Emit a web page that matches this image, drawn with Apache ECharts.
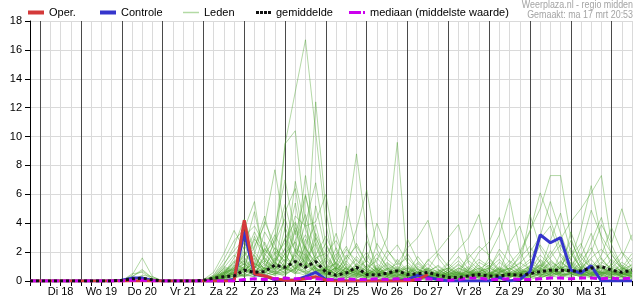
<!DOCTYPE html>
<html><head><meta charset="utf-8">
<script src="https://cdn.jsdelivr.net/npm/echarts@6/dist/echarts.min.js"></script>
<style>html,body{margin:0;padding:0;background:#fff}#c{width:635px;height:300px}</style>
</head><body><div id="c"></div>
<script>
// time axis: hours since ma 17 mrt 00:00, one value every 6 hours starting at 18:00
const startHour = 18;
const stepHours = 6;
const endHour = 372;
const dayLabels = ['Di 18','Wo 19','Do 20','Vr 21','Za 22','Zo 23','Ma 24','Di 25','Wo 26','Do 27','Vr 28','Za 29','Zo 30','Ma 31'];
const dayBoundaries = [24,48,72,96,120,144,168,192,216,240,264,288,312,336,360];

const oper = [0,0,0,0,0,0,0,0,0,0,0,0,0,0,0,0,0,0,0,0,0, 4.2,0.5,0.35,0.15,0.05,0.05,0.15,0.3,0.05, 0,0,0,0,0,0,0,0, 0.1,0.45];
const controle = [0,0,0,0,0,0,0,0,0, 0.05,0.2,0.2,0.05, 0,0,0,0,0,0,0, 0.1,3.4,0.45,0.35,0.1,0.05,0.05,0.3,0.6,0.1,0.05, 0,0,0,0,0,0, 0.1,0.4,0.25,0.1, 0,0,0,0,0, 0.25,0,0.1,0.65,3.2,2.65,3.0,0.75,0.55,1.05,0, 0,0,0];
const gemiddelde = [0,0,0,0,0,0,0,0,0, 0.05,0.15,0.2,0.08, 0,0,0,0, 0.05,0.2,0.3,0.35, 0.75,0.6,0.65,1.1, 0.95,1.35,0.95,1.35, 0.6,0.4,0.55,0.95, 0.45,0.4,0.55,0.7, 0.45,0.5,0.6,0.4, 0.25,0.25,0.35,0.45, 0.35,0.35,0.45,0.4, 0.5,0.65,0.75,0.75, 0.7,0.7,0.9,1.0, 0.75,0.6,0.75];
const mediaan = [0,0,0,0,0,0,0,0,0,0, 0.05,0.05, 0,0,0,0,0,0,0,0,0, 0.1,0.15,0.1,0.15, 0.2,0.15,0.2,0.15, 0.1,0.1,0.15,0.1, 0.1,0.15,0.1,0.15, 0.1,0.1,0.15,0.1, 0.05,0.1,0.2,0.2, 0.1,0.1,0.15,0.1, 0.1,0.15,0.2,0.2, 0.15,0.2,0.2,0.15, 0.2,0.15,0.2];

const lid01 = [0,0,0,0,0,0,0,0,0, 0,0.4,1.6,0.3, 0,0,0,0, 0,0.1,0.3,0.5, 0.8,0.4,0.6,1.5, 9.5,13.1,16.7,10.3, 3.9,0.6,0.3,0.8, 0.4,0.2,0.5,0.3, 0.1,0.3,0.2,0, 0,0.1,0.4,0.2, 0.1,0,0.3,0.5, 0.8,0.4,0.2,0.6, 1.2,0.5,0.3,0.2, 0.4,0.8,0.3];
const lid02 = [0,0,0,0,0,0,0,0,0, 0,0.3,0.8,0.2, 0,0,0,0, 0,0.2,0.6,1.1, 0.9,1.8,0.7,3.0, 9.5,10.4,4.0,1.2, 0.4,0.2,1.0,0.6, 0.2,0.1,0.3,0.8, 0.5,0.2,0,0.1, 0.3,0.6,0.2,0, 0,0.2,0.4,0.1, 0.3,1.5,0.9,0.4, 0.2,0.6,1.0,0.5, 0.2,0.1,0.4];
const lid03 = [0,0,0,0,0,0,0,0,0, 0,0.5,0.6,0.1, 0,0,0,0, 0,0,0.2,0.4, 1.2,0.6,0.3,0.9, 1.5,4.0,0.8,12.4, 4.9,0.8,0.3,0.2, 0.6,1.1,0.4,0.2, 0.1,0,0.3,0.5, 0.2,0.1,0,0.3, 0.6,0.2,0.1,0, 0.4,0.7,2.1,1.0, 0.5,0.3,0.8,1.6, 0.7,0.3,0.2];
const lid04 = [0,0,0,0,0,0,0,0,0, 0,0,0.4,0.3, 0,0,0,0, 0,0.3,1.0,0.7, 2.1,0.9,1.4,0.6, 0.3,2.2,1.8,0.9, 0.4,1.6,3.8,8.8, 3.3,0.5,0.2,0.1, 0.3,0.1,0.4,0.2, 0,0.2,0.5,1.1, 0.3,0.1,0.2,0.6, 0.2,0.5,0.3,0.9, 2.3,0.8,0.4,0.3, 0.1,0.5,0.9];
const lid05 = [0,0,0,0,0,0,0,0,0, 0,0.2,0.3,0, 0,0,0,0, 0,0,0.1,0.2, 0.5,0.3,0.8,1.3, 0.7,1.9,3.2,1.5, 0.6,0.3,0.2,0.5, 0.9,1.4,3.0,9.6, 1.0,0.4,0.2,0.3, 0.1,0,0.2,0.4, 0.8,0.3,0.5,0.2, 0.1,0.3,0.6,0.4, 0.7,1.2,0.5,0.2, 0.3,0.6,0.2];
const lid06 = [0,0,0,0,0,0,0,0,0, 0.1,0.3,0.7,0.2, 0,0,0,0, 0.1,0.4,1.5,2.8, 3.6,5.5,1.2,0.6, 0.9,0.5,1.7,0.8, 0.3,0.1,0.4,0.7, 0.5,0.3,0.1,0.2, 0.4,0.7,0.3,0.1, 0.2,0.5,0.9,0.4, 0.3,0.6,1.2,2.0, 3.5,5.0,7.3,7.3, 3.0,1.1,0.6,0.4, 0.2,0.3,0.1];
const lid07 = [0,0,0,0,0,0,0,0,0,0,0,0,0,0,0,0,0, 0,0.2,0.5,1.0, 1.8,2.4,3.9,7.7, 3.4,1.2,0.6,0.9, 0.5,0.2,0.6,0.4, 0.2,0.5,0.8,0.3, 0.2,0.1,0.5,0.8, 0.4,0.2,0.1,0.3, 0.5,0.9,0.4,0.2, 0.6,1.0,1.8,2.9, 4.1,5.0,6.1,7.3, 2.5,1.0,0.6];
const lid08 = [0,0,0,0,0,0,0,0,0,0,0,0,0,0,0,0,0, 0,0.1,0.4,0.9, 1.4,0.8,2.7,1.1, 4.8,6.4,2.0,0.7, 0.8,2.3,0.9,0.3, 0.2,0.6,1.3,0.7, 0.3,1.2,0.6,0.2, 0.4,0.8,1.6,2.4, 1.8,3.2,5.7,2.1, 0.6,0.3,0.9,1.3, 0.8,0.4,1.1,0.6, 0.3,0.2,0.5];
const lid09 = [0,0,0,0,0,0,0,0,0,0,0,0,0,0,0,0,0, 0,0,0.3,0.6, 0.4,1.2,0.9,2.3, 1.6,0.8,5.9,3.1, 1.2,0.6,0.3,1.1, 2.0,0.8,0.4,0.6, 0.9,0.5,0.3,0.6, 1.3,2.2,3.0,4.6, 1.5,0.7,0.4,0.9, 0.5,0.8,0.4,0.2, 0.6,1.4,2.3,0.9, 0.5,1.3,0.8];
const lid10 = [0,0,0,0,0,0,0,0,0,0,0,0,0,0,0,0,0, 0,0.2,0.9,1.8, 1.1,0.5,0.7,1.9, 2.6,1.3,0.8,1.6, 1.9,2.8,1.5,3.6, 6.3,2.2,0.9,0.5, 0.2,0.4,0.9,0.6, 0.3,0.1,0.4,0.7, 0.3,0.5,0.2,0.6, 1.0,2.5,1.5,0.8, 1.3,0.7,2.0,3.9, 2.6,5.0,2.8];
const lid11 = [0,0,0,0,0,0,0,0,0,0,0,0,0,0,0,0,0, 0,0.1,0.2,0.5, 2.4,1.5,0.6,0.4, 1.1,3.5,1.4,0.6, 0.9,0.5,1.8,1.0, 0.7,1.6,0.8,1.2, 2.3,3.0,4.2,1.6, 0.7,0.3,0.6,0.2, 0.4,1.0,0.5,0.3, 0.2,0.6,1.2,0.7, 1.7,2.6,0.9,0.5, 1.2,0.6,0.4];
const lid12 = [0,0,0,0,0,0,0,0,0,0,0,0,0,0,0,0,0, 0,0.1,0.6,1.3, 0.7,0.4,1.9,1.0, 0.5,0.9,1.5,2.6, 0.8,0.4,0.2,0.6, 0.3,0.2,0.6,0.4, 0.6,0.3,0.1,0.3, 0.8,0.5,0.3,0.6, 0.9,1.5,0.7,1.8, 3.4,6.1,4.2,2.2, 1.5,3.6,6.6,2.9, 1.0,0.7,1.6];
const lid13 = [0,0,0,0,0,0,0,0,0,0,0,0,0,0,0,0,0, 0.1,0.6,1.9,3.5, 2.2,4.8,1.6,0.7, 0.4,0.9,0.6,0.3, 0.2,0.4,0.9,0.5, 0.3,0.1,0.2,0.5, 0.4,0.2,0.1,0.2, 0.1,0.3,0.2,0.1, 0.2,0.4,0.3,0.5, 0.9,0.4,0.6,1.4, 0.7,0.3,0.5,1.0, 0.6,0.3,0.2];
const lid14 = [0,0,0,0,0,0,0,0,0,0,0,0,0,0,0,0,0, 0,0.2,0.7,0.4, 1.0,2.9,2.0,3.7, 7.0,3.2,6.0,2.4, 0.7,1.3,0.6,0.2, 0.5,0.8,0.3,0.2, 0.1,0.3,0.6,1.1, 0.5,0.2,0.4,0.3, 0.2,0.6,0.9,0.4, 0.3,0.2,0.5,0.9, 1.1,0.5,0.3,0.7, 1.5,0.9,0.5];
const lid15 = [0,0,0,0,0,0,0,0,0,0,0,0,0,0,0,0,0, 0,0,0.2,0.8, 0.6,1.0,0.5,1.4, 2.2,4.5,3.8,4.1, 6.0,2.1,0.9,0.4, 1.1,0.6,0.3,0.2, 0.5,0.9,0.4,0.2, 0.2,0.4,0.7,0.3, 0.6,0.3,0.8,1.2, 2.0,3.1,5.5,3.3, 1.4,0.8,1.5,0.6, 0.4,0.8,1.1];
const lid16 = [0,0,0,0,0,0,0,0,0,0,0,0,0,0,0,0,0, 0,0.1,0.3,0.7, 1.6,0.9,2.2,1.3, 0.8,1.8,0.9,1.4, 2.6,1.2,0.5,0.8, 0.4,2.6,1.5,0.9, 0.3,0.6,1.2,0.5, 0.9,1.7,0.8,2.0, 2.7,4.4,1.9,0.7, 0.5,1.1,0.7,0.3, 0.5,0.9,1.6,2.2, 1.4,0.6,0.3];
const lid17 = [0,0,0,0,0,0,0,0,0,0,0,0,0,0,0,0,0, 0,0.2,0.4,0.3, 0.5,0.9,1.6,0.8, 3.7,2.1,1.0,5.2, 2.0,0.7,1.6,2.4, 1.3,4.0,2.2,1.1, 1.6,0.8,0.4,0.2, 0.4,0.7,1.4,0.8, 0.5,0.2,0.7,1.3, 0.8,0.5,0.3,0.6, 0.9,0.4,0.2,0.5, 0.8,0.4,0.6];
const lid18 = [0,0,0,0,0,0,0,0,0,0,0,0,0,0,0,0,0, 0,0.1,0.2,0.2, 0.4,0.6,0.3,0.5, 0.9,0.6,1.2,0.7, 0.3,0.5,0.2,0.4, 0.6,0.3,0.5,0.2, 0.2,0.4,0.3,0.5, 0.3,0.2,0.5,0.4, 0.2,0.3,0.5,0.4, 0.6,0.4,0.8,0.5, 0.4,0.7,0.5,0.9, 0.6,0.4,0.7];
const lid19 = [0,0,0,0,0,0,0,0,0,0,0,0,0,0,0,0,0, 0,0.3,0.8,0.5, 1.3,0.7,1.1,2.0, 1.4,2.8,4.6,1.9, 0.6,0.9,2.2,1.4, 0.8,0.5,1.7,2.5, 1.3,0.6,0.8,1.9, 1.0,0.5,0.3,0.6, 1.1,0.6,2.6,3.8, 1.6,0.9,0.5,1.2, 2.8,1.3,0.7,0.4, 0.9,1.6,3.2];
const lid20 = [0,0,0,0,0,0,0,0,0,0,0,0,0,0,0,0,0, 0,0,0.1,0.4, 0.9,3.1,1.4,0.8, 1.9,0.7,2.5,3.9, 1.1,0.4,0.7,1.7, 0.9,0.4,0.6,0.3, 2.9,1.4,0.7,0.3, 0.6,1.2,0.5,0.9, 0.4,0.7,1.4,0.9, 4.6,2.3,1.0,0.5, 0.3,0.6,0.9,1.8, 3.7,2.0,0.9];
const lid21 = [0,0,0,0,0,0,0,0,0,0,0,0,0,0,0,0,0, 0,0.2,0.5,0.9, 0.6,1.9,4.1,2.5, 1.0,0.6,0.9,1.8, 3.1,1.5,0.8,0.5, 0.3,0.9,0.5,0.8, 0.5,1.7,0.8,0.4, 0.2,0.4,1.9,1.0, 0.6,0.3,0.4,0.8, 1.3,0.8,2.8,4.7, 2.0,0.9,0.4,0.6, 0.3,0.5,1.2];
const lid22 = [0,0,0,0,0,0,0,0,0,0,0,0,0,0,0,0,0, 0,0.1,0.3,0.6, 0.3,0.5,0.9,0.6, 2.3,5.4,1.6,0.8, 0.4,1.0,0.6,0.3, 1.8,0.7,0.3,1.5, 0.7,0.3,1.5,0.8, 0.4,0.2,0.3,1.3, 0.9,1.9,0.6,0.3, 0.4,1.2,0.8,0.5, 3.4,1.6,0.9,0.5, 0.7,0.3,0.4];
const lid23 = [0,0,0,0,0,0,0,0,0,0,0,0,0,0,0,0,0, 0,0.4,1.2,2.1, 2.9,1.7,0.8,0.5, 0.7,1.4,0.9,3.0, 1.5,0.6,0.4,0.7, 0.6,0.3,0.8,0.5, 0.3,0.6,0.9,0.4, 1.2,0.6,0.3,0.2, 0.5,0.8,0.4,0.7, 0.6,0.3,0.4,1.9, 0.9,2.4,4.9,3.1, 1.9,0.8,0.5];
const lid24 = [0,0,0,0,0,0,0,0,0,0,0,0,0,0,0,0,0, 0,0,0.2,0.3, 0.4,0.3,0.6,1.0, 0.6,1.1,0.5,0.9, 0.5,0.3,0.5,1.2, 0.7,0.4,0.2,0.4, 0.3,0.2,0.6,0.3, 0.5,0.9,0.6,0.3, 0.2,0.4,0.6,0.3, 0.5,0.9,0.6,0.3, 0.6,0.4,0.8,1.3, 0.9,0.5,0.3];
const lid25 = [0,0,0,0,0,0,0,0,0,0,0,0,0,0,0,0,0, 0,0.2,0.4,1.4, 0.8,0.6,1.3,2.7, 4.3,2.0,7.3,2.8, 0.9,0.5,1.2,0.7, 0.4,1.0,0.5,0.3, 0.8,0.5,0.2,0.7, 0.9,0.4,0.8,1.5, 1.0,0.5,0.3,0.5, 0.7,1.8,1.1,0.6, 1.0,1.9,0.8,0.4, 0.6,1.1,0.7];
const lid26 = [0,0,0,0,0,0,0,0,0,0,0,0,0,0,0,0,0, 0,0.1,0.5,0.3, 0.7,1.3,0.6,0.4, 0.5,0.8,2.4,0.9, 1.4,3.3,1.1,0.6, 2.8,1.2,0.7,0.5, 0.4,0.2,0.3,0.6, 0.3,0.7,0.4,0.5, 1.6,0.8,0.5,0.3, 0.4,0.2,0.5,0.9, 0.5,0.3,0.6,0.4, 0.2,0.3,0.5];
const lid27 = [0,0,0,0,0,0,0,0,0,0,0,0,0,0,0,0,0, 0,0.3,0.6,0.8, 1.5,0.8,0.4,0.7, 1.2,0.6,0.4,1.1, 0.7,0.4,0.9,0.5, 0.3,0.6,0.4,0.9, 0.6,0.8,0.5,0.3, 0.6,0.3,0.8,0.5, 0.3,0.6,0.9,0.5, 1.1,0.6,0.4,0.7, 0.8,0.5,1.2,0.9, 0.5,0.9,0.6];
const lid28 = [0,0,0,0,0,0,0,0,0,0,0,0,0,0,0,0,0, 0,0.1,0.2,0.5, 0.3,0.7,0.5,1.2, 0.9,0.5,0.7,0.5, 0.6,0.9,0.5,1.1, 0.7,0.4,0.9,0.6, 1.0,0.6,1.4,2.1, 3.0,3.9,1.2,0.6, 0.4,0.8,0.3,0.6, 0.3,0.5,0.9,0.6, 0.4,0.8,0.5,0.7, 0.5,0.4,0.8];
const lid29 = [0,0,0,0,0,0,0,0,0,0,0,0,0,0,0,0,0, 0,0.2,0.3,0.6, 1.0,0.5,0.9,0.6, 1.3,0.9,1.1,0.6, 0.4,0.7,0.5,0.9, 0.5,0.8,0.4,0.7, 0.4,0.2,0.5,0.3, 0.5,0.6,0.4,0.7, 0.9,0.5,1.1,0.6, 0.4,0.7,0.4,0.6, 1.0,0.6,0.4,0.8, 0.4,0.6,0.5];
const lid30 = [0,0,0,0,0,0,0,0,0,0,0,0,0,0,0,0,0, 0,0,0.3,0.5, 0.8,1.2,0.7,1.6, 1.0,3.7,2.2,1.3, 0.5,0.8,1.4,0.6, 0.5,0.4,1.1,0.7, 0.5,0.3,0.2,0.5, 0.7,0.4,0.6,0.9, 0.4,1.3,0.7,0.5, 0.9,0.6,1.4,0.8, 0.6,0.5,0.3,1.1, 0.8,0.5,0.9];
const lid31 = [0,0,0,0,0,0,0,0,0,0,0,0,0,0,0,0,0, 0,0.3,1.1,2.4, 4.3,2.0,1.1,0.8, 1.9,2.7,1.2,0.6, 0.5,1.3,2.4,1.0, 0.4,0.3,0.6,1.0, 0.7,0.4,0.2,0.4, 0.6,1.1,0.7,0.4, 0.3,0.5,0.9,1.6, 2.4,1.3,0.7,0.5, 0.8,1.7,3.3,1.5, 0.8,0.4,0.6];
const lid32 = [0,0,0,0,0,0,0,0,0,0,0,0,0,0,0,0,0, 0,0.1,0.5,1.6, 3.1,3.8,2.5,1.4, 2.9,4.1,2.3,1.2, 0.8,0.5,1.3,2.6, 1.2,0.6,0.4,0.3, 0.5,1.3,0.6,0.3, 0.2,0.5,0.4,0.8, 1.3,0.7,0.4,0.3, 0.5,0.9,1.6,2.5, 1.2,0.6,0.3,0.6, 1.1,2.0,1.3];
const lid33 = [0,0,0,0,0,0,0,0,0,0,0,0,0,0,0,0,0, 0,0.2,0.7,1.2, 2.7,1.1,3.4,2.2, 1.3,6.9,3.6,1.7, 0.9,0.4,0.7,1.5, 0.9,1.9,1.0,0.6, 0.4,0.3,0.7,1.0, 0.5,0.3,0.2,0.5, 0.8,2.2,1.3,0.6, 0.4,0.7,0.5,1.1, 1.9,0.9,0.5,0.3, 0.5,0.9,1.9];
const lid34 = [0,0,0,0,0,0,0,0,0,0,0,0,0,0,0,0,0, 0,0.1,0.4,0.9, 1.7,3.4,1.9,2.8, 5.3,2.4,1.1,3.3, 1.7,0.9,0.4,0.3, 0.5,0.7,2.1,1.3, 0.6,0.4,0.3,0.2, 0.8,1.4,0.6,0.3, 0.4,0.3,0.6,0.9, 1.5,2.9,3.8,1.7, 0.9,0.5,0.4,1.2, 2.1,1.0,0.5];
const lid35 = [0,0,0,0,0,0,0,0,0,0,0,0,0,0,0,0,0, 0,0.2,0.9,0.6, 1.4,2.3,4.5,1.8, 0.9,1.6,4.0,6.8, 2.5,1.1,0.6,0.9, 0.6,0.4,0.3,0.7, 1.1,0.6,0.3,0.5, 0.4,0.2,0.6,0.4, 0.2,0.5,0.3,0.4, 0.8,0.5,0.9,0.6, 0.7,0.4,0.9,0.6, 0.4,0.7,0.5];
const lid36 = [0,0,0,0,0,0,0,0,0,0,0,0,0,0,0,0,0, 0,0,0.2,0.7, 1.9,1.0,0.6,1.1, 0.8,1.5,0.7,1.0, 1.6,0.8,5.2,2.1, 0.8,0.5,0.9,0.4, 0.3,0.5,0.8,0.4, 0.3,0.6,1.0,0.5, 0.7,0.4,0.6,0.3, 0.6,1.4,0.8,0.4, 0.5,0.9,2.7,4.4, 1.8,0.9,0.6];
const lid37 = [0,0,0,0,0,0,0,0,0,0,0,0,0,0,0,0,0, 0,0.3,0.5,1.0, 0.7,0.9,2.3,1.2, 3.0,1.0,2.9,1.5, 0.7,1.9,0.6,0.4, 0.3,0.6,1.2,0.8, 1.9,0.8,0.5,0.3, 0.6,0.4,0.3,0.6, 0.9,0.6,0.3,0.7, 1.0,0.7,1.3,0.9, 0.6,0.4,0.7,0.5, 0.9,0.5,0.3];
const lid38 = [0,0,0,0,0,0,0,0,0,0,0,0,0,0,0,0,0, 0,0.2,0.4,0.8, 1.2,0.6,0.9,0.5, 0.6,2.0,1.3,0.8, 0.5,0.9,0.6,0.8, 0.4,0.7,0.5,0.6, 0.9,0.5,0.3,0.7, 0.4,0.9,0.5,0.3, 0.6,0.4,0.5,0.8, 0.5,0.8,0.6,0.4, 0.6,0.8,0.4,0.6, 0.5,0.3,0.6];
const lid39 = [0,0,0,0,0,0,0,0,0,0,0,0,0,0,0,0,0, 0,0.1,0.3,0.6, 0.9,0.4,1.7,3.2, 1.8,0.9,0.5,0.7, 0.9,1.2,0.8,0.5, 0.6,0.9,0.5,0.4, 0.6,1.0,0.7,0.4, 0.3,0.5,0.7,0.4, 0.5,0.3,0.4,0.6, 0.7,1.1,0.6,0.9, 0.5,0.3,0.6,0.9, 0.6,0.4,0.8];
const lid40 = [0,0,0,0,0,0,0,0,0,0,0,0,0,0,0,0,0, 0,0.2,0.6,0.4, 0.6,1.6,0.8,0.5, 1.1,0.7,1.9,0.9, 0.6,0.3,0.6,0.9, 1.4,0.8,0.4,0.7, 0.5,0.3,0.4,0.6, 0.9,0.5,0.4,0.6, 0.4,0.9,0.6,0.4, 0.6,0.4,0.7,1.0, 0.7,1.0,0.6,0.4, 0.7,0.5,0.4];
const leden = [lid01,lid02,lid03,lid04,lid05,lid06,lid07,lid08,lid09,lid10,lid11,lid12,lid13,lid14,lid15,lid16,lid17,lid18,lid19,lid20,
               lid21,lid22,lid23,lid24,lid25,lid26,lid27,lid28,lid29,lid30,lid31,lid32,lid33,lid34,lid35,lid36,lid37,lid38,lid39,lid40];

const FONT = '"Liberation Sans", Arial, sans-serif';
const C_OPER = '#d43a3a', C_CTRL = '#3535cc', C_LID = '#4aa12a', C_MED = '#cc00ee', C_MEAN = '#111111';
const toXY = arr => arr.map((v, i) => [startHour + i * stepHours, v]);

const series = [];
series.push({
  type: 'line', name: '_days', data: [], silent: true, z: 1,
  markLine: { silent: true, z: 1, symbol: ['none','none'], label: {show: false}, animation: false,
    lineStyle: {color: '#4a4a4a', width: 1, type: 'solid'},
    data: dayBoundaries.map(h => ({xAxis: h})) }
});
leden.forEach(arr => series.push({
  type: 'line', name: 'Leden', data: toXY(arr), symbol: 'none', silent: true, z: 2,
  itemStyle: {color: C_LID},
  lineStyle: {color: C_LID, width: 1, opacity: 0.42}
}));
series.push({type: 'line', name: 'Controle', data: toXY(controle), symbol: 'none', z: 3,
  itemStyle: {color: C_CTRL}, lineStyle: {color: C_CTRL, width: 3}});
series.push({type: 'line', name: 'Oper.', data: toXY(oper), symbol: 'none', z: 4,
  itemStyle: {color: C_OPER}, lineStyle: {color: C_OPER, width: 3}});
series.push({type: 'line', name: 'mediaan (middelste waarde)', data: toXY(mediaan), symbol: 'none', z: 5,
  itemStyle: {color: C_MED}, lineStyle: {color: C_MED, width: 3, type: [7, 4]}});
series.push({type: 'line', name: 'gemiddelde', data: toXY(gemiddelde), symbol: 'none', z: 6,
  itemStyle: {color: C_MEAN}, lineStyle: {color: C_MEAN, width: 3, type: [3, 3]}});

const legendAt = (name, left, icon, w, h, color) => ({
  left: left, top: 7, padding: 0, itemWidth: w, itemHeight: h, itemGap: 0,
  selectedMode: false,
  data: [{name: name, icon: icon, itemStyle: {color: color, opacity: 1}}],
  textStyle: {fontSize: 11, color: '#000', fontFamily: FONT}
});

const chart = echarts.init(document.getElementById('c'), null, {renderer: 'canvas'});
chart.setOption({
  animation: false,
  backgroundColor: '#fff',
  textStyle: {fontFamily: FONT},
  legend: [
    legendAt('Oper.', 28, 'rect', 16, 4, C_OPER),
    legendAt('Controle', 100, 'rect', 16, 4, C_CTRL),
    legendAt('Leden', 183, 'rect', 16, 1.5, '#b3daa4'),
    legendAt('gemiddelde', 256, 'path://M0,0h3v3h-3zM4,0h3v3h-3zM8,0h3v3h-3zM12,0h3v3h-3z', 15, 3, C_MEAN),
    legendAt('mediaan (middelste waarde)', 349, 'path://M0,0h12v3h-12zM14,0h2v3h-2z', 16, 3, C_MED)
  ],
  graphic: [
    {type: 'text', x: 633, y: 0, scaleX: 0.89, silent: true,
      style: {text: 'Weerplaza.nl - regio midden', align: 'right', verticalAlign: 'top', fontSize: 10, fill: '#a4a4a4', fontFamily: FONT}},
    {type: 'text', x: 633, y: 10, scaleX: 0.89, silent: true,
      style: {text: 'Gemaakt: ma 17 mrt 20:53', align: 'right', verticalAlign: 'top', fontSize: 10, fill: '#a4a4a4', fontFamily: FONT}}
  ],
  grid: {left: 30, right: 0, top: 21, bottom: 19, containLabel: false},
  xAxis: [{
    type: 'value', min: startHour, max: endHour, interval: stepHours, position: 'bottom',
    axisLine: {show: true, onZero: false, lineStyle: {color: '#000', width: 1}},
    axisTick: {show: true, inside: false, length: 5, lineStyle: {color: '#000'}},
    splitLine: {show: true, lineStyle: {color: '#dadada', width: 1}},
    axisLabel: {show: true, margin: 5, fontSize: 11, color: '#000', fontFamily: FONT,
      showMinLabel: true, showMaxLabel: true,
      formatter: v => (v % 24 === 12 && dayLabels[(v - 36) / 24]) ? dayLabels[(v - 36) / 24] : ''}
  }, {
    type: 'value', min: startHour, max: endHour, interval: stepHours, position: 'top',
    axisLine: {show: true, lineStyle: {color: '#000', width: 1}},
    axisTick: {show: true, inside: true, length: 5, lineStyle: {color: '#000'}},
    splitLine: {show: false}, axisLabel: {show: false}
  }],
  yAxis: {
    type: 'value', min: 0, max: 18, interval: 2,
    axisLine: {show: true, lineStyle: {color: '#000', width: 1}},
    axisTick: {show: true, inside: false, length: 5, lineStyle: {color: '#000'}},
    splitLine: {show: true, lineStyle: {color: '#dadada', width: 1}},
    axisLabel: {margin: 8, fontSize: 11, color: '#000', fontFamily: FONT}
  },
  series: series
});
</script>
</body></html>
